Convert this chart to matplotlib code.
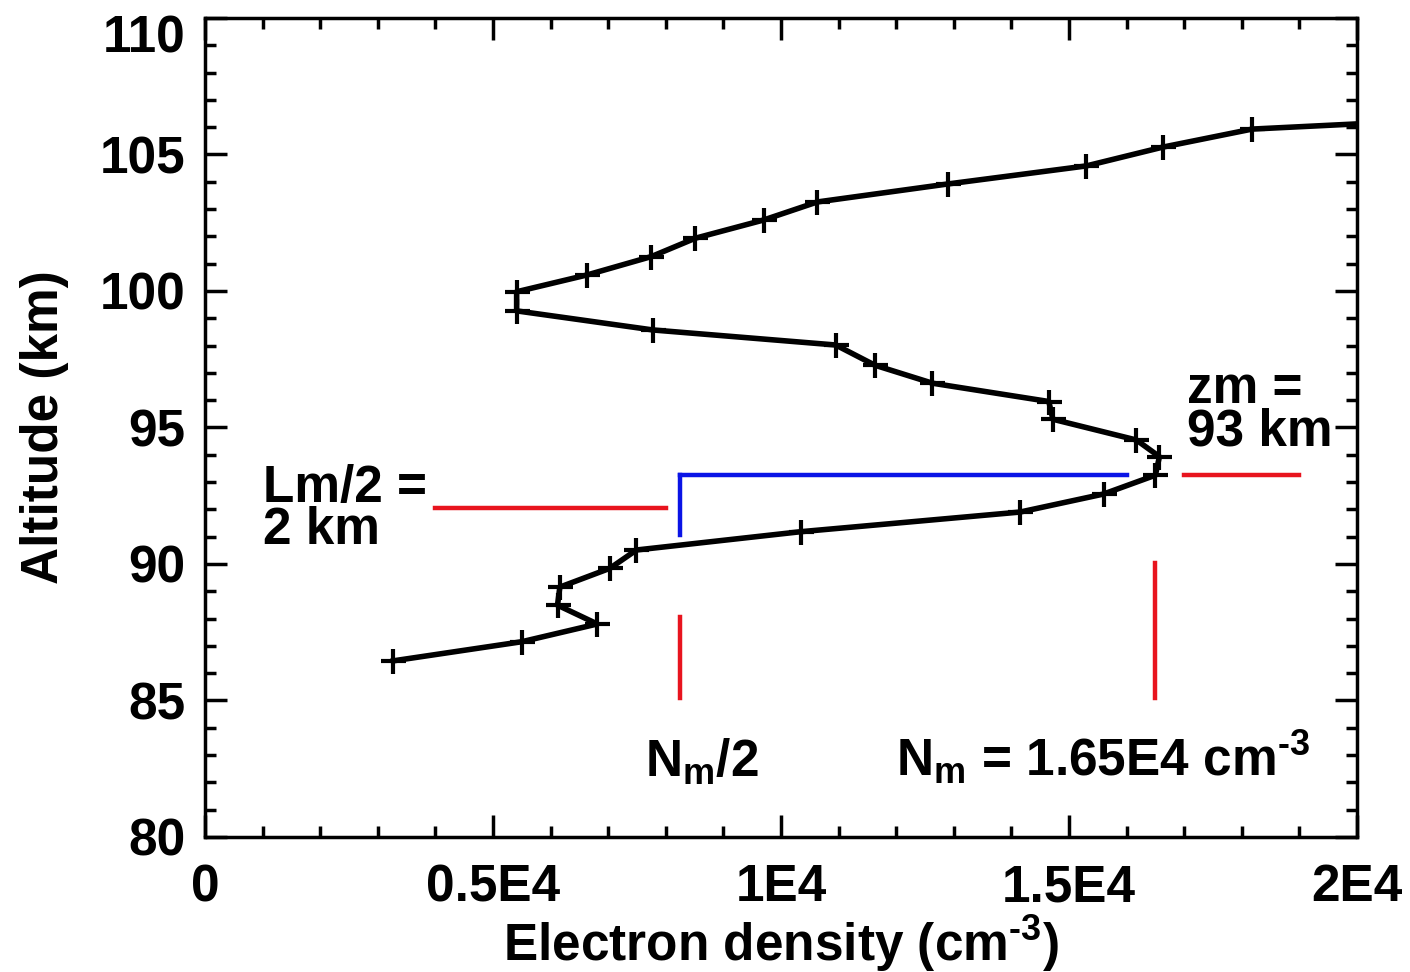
import matplotlib
matplotlib.use("Agg")
import matplotlib.pyplot as plt
import matplotlib.transforms as mtransforms
from matplotlib.ticker import MultipleLocator, FixedLocator

plt.rcParams['font.family'] = ['Liberation Sans', 'DejaVu Sans']
plt.rcParams['font.weight'] = 'bold'
plt.rcParams['axes.unicode_minus'] = False
plt.rcParams['mathtext.fontset'] = 'custom'
plt.rcParams['mathtext.rm'] = 'Liberation Sans:bold'
plt.rcParams['mathtext.it'] = 'Liberation Sans:bold'
plt.rcParams['mathtext.bf'] = 'Liberation Sans:bold'
plt.rcParams['mathtext.default'] = 'rm'

# electron density profile (cm^-3) vs altitude (km)
altitude = [86.45, 87.15, 87.80, 88.49, 89.15, 89.84, 90.51, 91.18, 91.90,
            92.56, 93.25, 93.93, 94.54, 95.30, 95.95, 96.62, 97.28, 98.02,
            98.57, 99.27, 99.97, 100.59, 101.26, 101.93, 102.60, 103.26,
            103.92, 104.58, 105.27, 105.93, 106.60]
density = [3270, 5500, 6810, 6120, 6160, 7030, 7490, 10340, 14150,
           15600, 16500, 16570, 16170, 14720, 14650, 12630, 11630, 10950,
           7780, 5410, 5410, 6640, 7750, 8510, 9700, 10630,
           12900, 15300, 16630, 18180, 24600]

# layer parameters
Nm = 16500.0
zm = 93.25
half_width_bottom = 91.05

xticks = [0, 5000, 10000, 15000, 20000]
xticklabels = ['0', '0.5E4', '1E4', '1.5E4', '2E4']
yticks = [80, 85, 90, 95, 100, 105, 110]

fig = plt.figure(figsize=(14.1, 9.72), dpi=100)
ax = fig.add_axes([0.1454, 0.139, 0.8170, 0.8425])

ax.plot(density, altitude, color='k', lw=4, marker='+', ms=18, mew=3)

# Nm/2 -> Nm bracket
ax.plot([Nm / 2, 16000], [zm, zm], color='#0a14e6', lw=3.2)
ax.plot([Nm / 2, Nm / 2], [zm, half_width_bottom], color='#0a14e6', lw=3.2)

# red markers
red = '#e8141e'
ax.plot([4000, 8000], [92.05, 92.05], color=red, lw=3.2)
ax.plot([17000, 19000], [zm, zm], color=red, lw=3.2)
ax.plot([Nm / 2, Nm / 2], [85.1, 88.05], color=red, lw=3.2)
ax.plot([Nm, Nm], [85.1, 90.05], color=red, lw=3.2)

sup = r'$^{\mathregular{\text{-3}}}$'

fs = 37
ax.text(1000, 92.0, 'Lm/2 =\n2 km', fontsize=fs, fontweight='bold',
        ha='left', va='center', linespacing=0.82)
ax.text(17050, 95.6, 'zm =\n%.0f km' % zm, fontsize=fs, fontweight='bold',
        ha='left', va='center', linespacing=0.82)
ax.text(7640, 82.2, r'$\mathregular{N_m/2}$', fontsize=fs, ha='left',
        va='baseline')
ax.text(12000, 82.2, r'$\mathregular{N_m}$ = %.2fE4 cm' % (Nm / 1e4) + sup,
        fontsize=fs, fontweight='bold', ha='left', va='baseline')

ax.set_xlim(0, 20000)
ax.set_ylim(80, 110)
ax.xaxis.set_major_locator(FixedLocator(xticks))
ax.set_xticklabels(xticklabels)
ax.xaxis.set_minor_locator(MultipleLocator(1000))
ax.yaxis.set_major_locator(FixedLocator(yticks))
ax.yaxis.set_minor_locator(MultipleLocator(1))

ax.tick_params(which='both', direction='in', top=True, right=True,
               labelsize=fs, width=2.5)
ax.tick_params(which='major', length=16, pad=14)
ax.tick_params(axis='x', which='major', pad=19)
ax.tick_params(which='minor', length=8)
for lab in ax.get_xticklabels() + ax.get_yticklabels():
    lab.set_fontweight('bold')
for sp in ax.spines.values():
    sp.set_linewidth(2.5)

# keep the top label inside the figure
top_lab = ax.get_yticklabels()[-1]
top_lab.set_transform(top_lab.get_transform() +
                      mtransforms.ScaledTranslation(0, -11 / 72, fig.dpi_scale_trans))

ax.set_xlabel('Electron density (cm' + sup + ')', fontsize=fs,
              fontweight='bold', labelpad=1)
ax.set_ylabel('Altitude (km)', fontsize=fs, fontweight='bold', labelpad=22)

fig.savefig('out.png', dpi=100)
